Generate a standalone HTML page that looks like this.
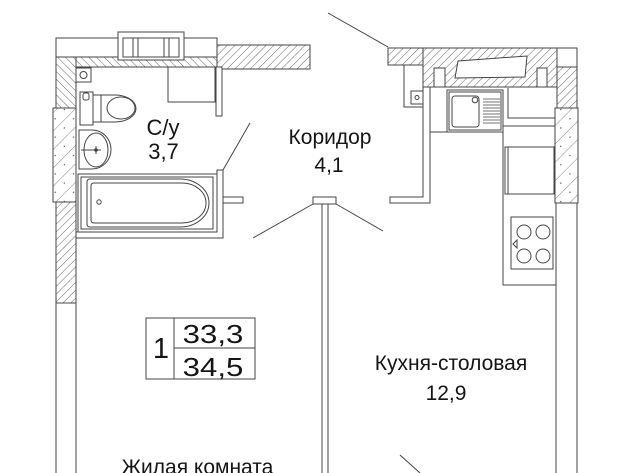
<!DOCTYPE html>
<html><head><meta charset="utf-8"><style>
html,body{margin:0;padding:0;background:#fff;}
svg{display:block;}
text{font-family:"Liberation Sans","DejaVu Sans",sans-serif;fill:#151515;}
</style></head><body>
<svg width="640" height="473" viewBox="0 0 640 473" xmlns="http://www.w3.org/2000/svg">
<defs>
<pattern id="hf" patternUnits="userSpaceOnUse" width="5.5" height="5.5" patternTransform="rotate(45)"><rect width="5.5" height="5.5" fill="#fff"/><line x1="0" y1="0" x2="0" y2="5.5" stroke="#555" stroke-width="0.9"/></pattern>
<pattern id="hb" patternUnits="userSpaceOnUse" width="5.5" height="5.5" patternTransform="rotate(-45)"><rect width="5.5" height="5.5" fill="#fff"/><line x1="0" y1="0" x2="0" y2="5.5" stroke="#555" stroke-width="0.9"/></pattern>
<pattern id="hs" patternUnits="userSpaceOnUse" width="13" height="13" patternTransform="rotate(45)"><rect width="13" height="13" fill="#fff"/><line x1="0" y1="0" x2="0" y2="13" stroke="#666" stroke-width="0.8"/><circle cx="6" cy="6" r="0.7" fill="#555"/></pattern>
</defs>
<rect width="640" height="473" fill="#fff"/>
<g stroke="#444" stroke-width="1" fill="none">
<rect x="56" y="38" width="161" height="19" fill="#fff"/>
<rect x="56" y="57" width="161" height="10" fill="url(#hb)"/>
<rect x="56" y="57" width="20" height="51" fill="url(#hb)"/>
<rect x="118" y="32" width="66" height="28" fill="#fff"/>
<rect x="123" y="38" width="56" height="19"/>
<line x1="133" y1="38" x2="133" y2="57"/><line x1="138" y1="38" x2="138" y2="57"/>
<line x1="164" y1="38" x2="164" y2="57"/><line x1="169" y1="38" x2="169" y2="57"/>
<rect x="217" y="45" width="93" height="24" fill="url(#hf)"/>
<rect x="53" y="108" width="23" height="94" fill="url(#hs)"/>
<rect x="56" y="202" width="20" height="101" fill="url(#hf)"/>
<rect x="56" y="303" width="20" height="180" fill="#fff"/>
<rect x="76" y="68" width="15" height="14"/>
<circle cx="83.5" cy="75" r="3.5"/>
<rect x="168" y="67" width="47" height="35"/>
<rect x="216" y="67" width="6" height="49" fill="#fff"/>
<rect x="80" y="92" width="13" height="33"/>
<rect x="83" y="93" width="6" height="7" rx="2"/>
<path d="M93 95 L115 95 A21 13.5 0 0 1 115 122 L93 122"/>
<line x1="101" y1="95" x2="101" y2="122"/>
<ellipse cx="121" cy="108" rx="14" ry="11"/>
<path d="M79 130 L92 130 A19 19.5 0 0 1 92 169 L79 169 Z"/>
<ellipse cx="96" cy="150" rx="12" ry="17"/>
<line x1="81" y1="150" x2="101" y2="150"/>
<line x1="96" y1="146" x2="96" y2="154"/>
<circle cx="96" cy="150" r="1.3" fill="#333"/>
<rect x="78" y="174" width="139" height="58"/>
<rect x="81" y="177" width="132" height="52"/>
<path d="M90 179 L180 179 A29 24 0 0 1 180 227 L90 227 Q87 227 87 224 L87 182 Q87 179 90 179 Z"/>
<path d="M94 183 L182 183 A24 20 0 0 1 182 223 L94 223 Q91 223 91 220 L91 186 Q91 183 94 183 Z"/>
<circle cx="99" cy="202" r="2.2"/>
<polygon points="217,170 223,170 223,238 76,238 76,232 217,232" fill="#fff"/>
<line x1="223" y1="170" x2="250" y2="123"/>
<rect x="223" y="197" width="20" height="6" fill="#fff"/>
<line x1="313" y1="204" x2="253" y2="238"/>
<line x1="336" y1="204" x2="383" y2="231"/>
<rect x="322" y="204" width="6" height="280" fill="#fff"/>
<rect x="313" y="197" width="23" height="7" fill="#fff"/>
<line x1="328" y1="13" x2="388" y2="47"/>
<polygon points="388,48 557,48 557,87 423,87 423,65 388,65" fill="url(#hf)"/>
<line x1="423" y1="48" x2="423" y2="65"/>
<rect x="557" y="48" width="20" height="19" fill="#fff"/>
<rect x="557" y="67" width="20" height="41" fill="url(#hf)"/>
<rect x="404" y="65" width="19" height="42" fill="#fff"/>
<rect x="411" y="91" width="12" height="13"/>
<circle cx="417" cy="97.5" r="2"/>
<polygon points="458,61 527,56 525,77 455,78" fill="#fff"/>
<rect x="434" y="68" width="11" height="19" fill="#fff"/>
<rect x="537" y="68" width="10" height="19" fill="#fff"/>
<polygon points="423,87 430,87 430,203 390,203 390,197 423,197" fill="#fff"/>
<rect x="447" y="90" width="56" height="42"/>
<rect x="449" y="92" width="52" height="38"/>
<rect x="452" y="96" width="27" height="31" rx="3"/>
<circle cx="475" cy="100" r="2.8"/>
<g stroke-width="0.8">
<line x1="483" y1="99" x2="500" y2="99"/><line x1="483" y1="102" x2="500" y2="102"/>
<line x1="483" y1="105" x2="500" y2="105"/><line x1="483" y1="108" x2="500" y2="108"/>
<line x1="483" y1="111" x2="500" y2="111"/><line x1="483" y1="114" x2="500" y2="114"/>
<line x1="483" y1="117" x2="500" y2="117"/><line x1="483" y1="120" x2="500" y2="120"/>
<line x1="483" y1="123" x2="500" y2="123"/>
</g>
<line x1="430" y1="132" x2="447" y2="132"/>
<polyline points="508,88 508,118 556,118"/>
<line x1="503" y1="126" x2="556" y2="126"/>
<polyline points="503,126 503,285 556,285"/>
<rect x="505" y="147" width="49" height="47"/>
<line x1="508" y1="147" x2="508" y2="194"/>
<rect x="511" y="217" width="42" height="52"/>
<circle cx="524" cy="232" r="7"/><circle cx="543" cy="232" r="7"/>
<circle cx="524" cy="256" r="7"/><circle cx="543" cy="256" r="7"/>
<polygon points="513,244 517,240 517,248"/>
<rect x="555" y="108" width="23" height="95" fill="url(#hs)"/>
<rect x="556" y="203" width="21" height="280" fill="#fff"/>
<line x1="400" y1="455" x2="420" y2="473"/>
<rect x="146" y="318" width="109" height="61"/>
<line x1="174" y1="318" x2="174" y2="379"/>
<line x1="174" y1="348" x2="255" y2="348"/>
</g>
<text x="163" y="135" font-size="22" text-anchor="middle">С/у</text>
<text x="163.5" y="159" font-size="22" text-anchor="middle">3,7</text>
<text x="330" y="144" font-size="21" text-anchor="middle">Коридор</text>
<text x="329" y="172" font-size="21" text-anchor="middle">4,1</text>
<text x="161" y="358" font-size="29" text-anchor="middle">1</text>
<text transform="translate(213,343) scale(1.2,1)" font-size="26" text-anchor="middle">33,3</text>
<text transform="translate(213,376) scale(1.2,1)" font-size="26" text-anchor="middle">34,5</text>
<text x="451" y="370" font-size="21" text-anchor="middle">Кухня-столовая</text>
<text x="446" y="400" font-size="21" text-anchor="middle">12,9</text>
<text x="197.5" y="474" font-size="21" text-anchor="middle">Жилая комната</text>
</svg>
</body></html>
